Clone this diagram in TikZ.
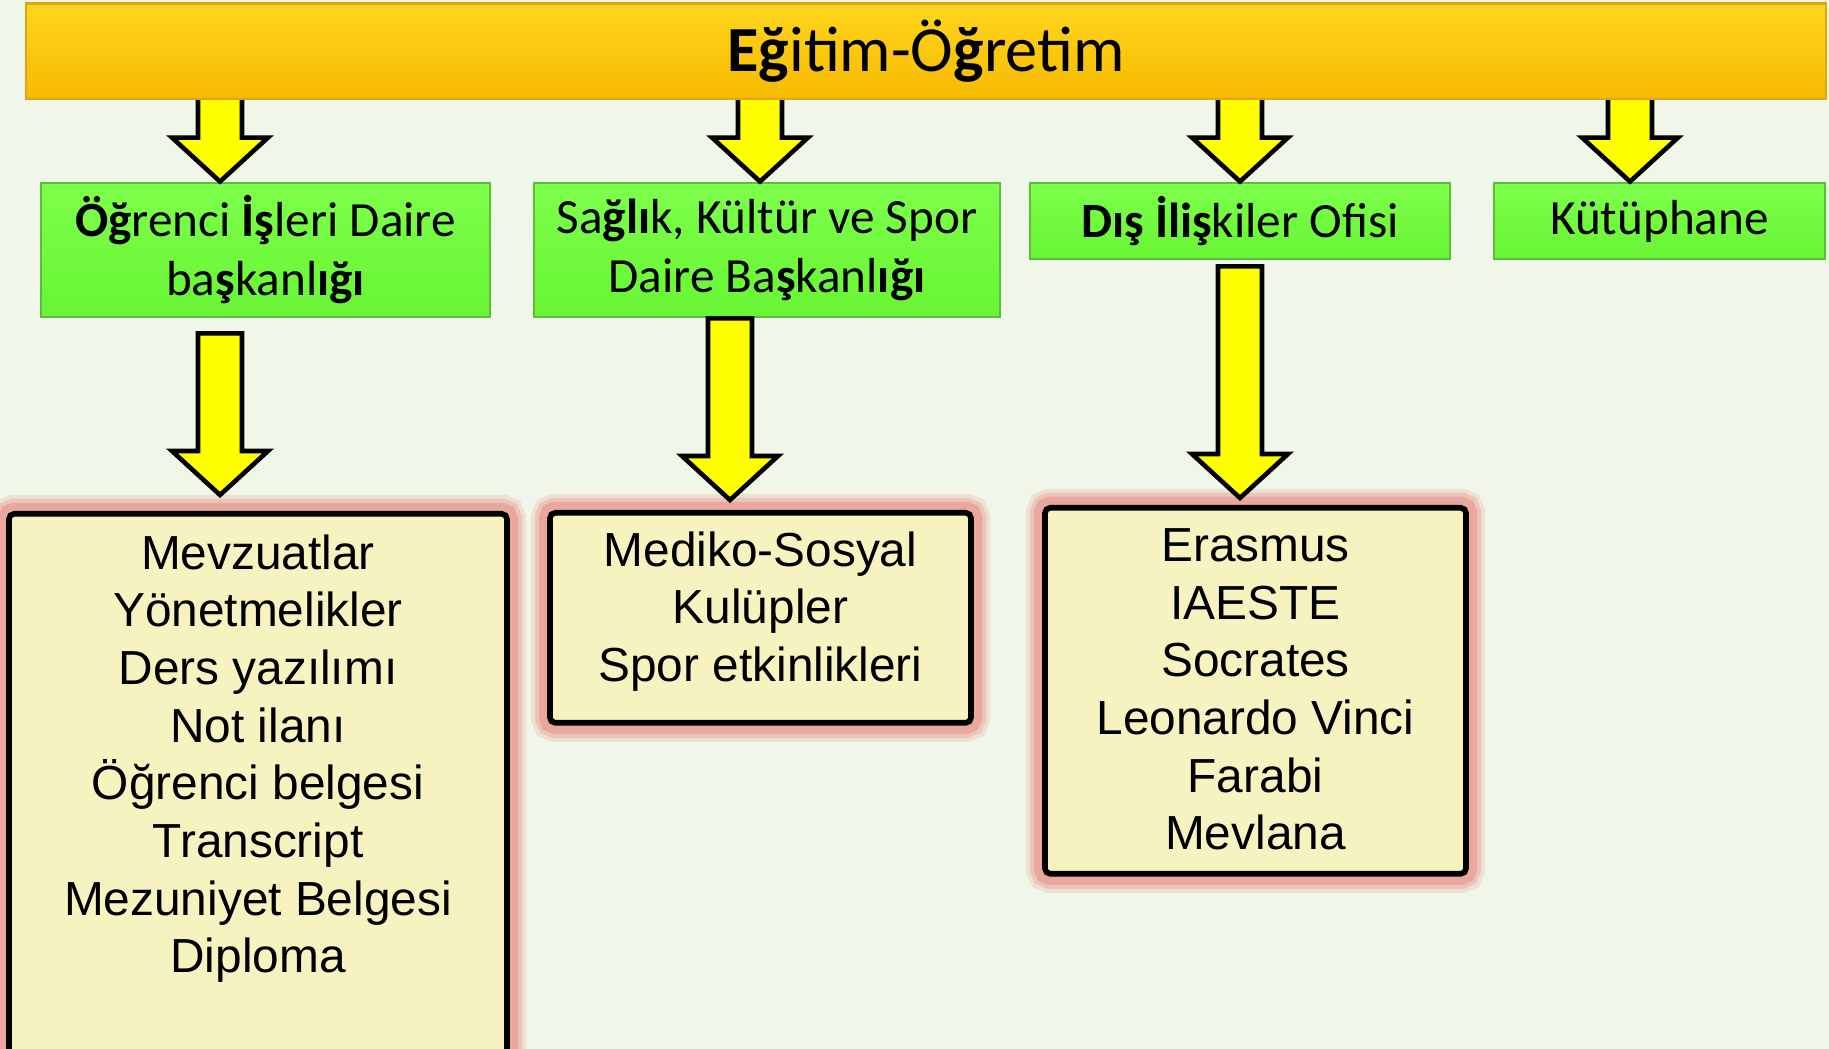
\documentclass[tikz,border=0pt]{standalone}
\usepackage{fontspec}
\setmainfont{Carlito}
\newfontfamily\listfont{Liberation Sans}
\usepackage{xcolor}
\usepackage{tikz}
\usetikzlibrary{positioning,calc}

\definecolor{bgcol}{RGB}{240,247,232}
\definecolor{goldtop}{RGB}{255,214,30}
\definecolor{goldbot}{RGB}{246,186,0}
\definecolor{goldedge}{RGB}{222,165,20}
\definecolor{greentop}{RGB}{125,255,75}
\definecolor{greenbot}{RGB}{104,245,52}
\definecolor{greenedge}{RGB}{88,190,60}
\definecolor{listfill}{RGB}{247,243,192}
\definecolor{glowpink}{RGB}{234,156,146}
\definecolor{arrowyellow}{RGB}{255,255,0}

\tikzset{
    greenbox/.style={draw=greenedge, line width=0.8pt, top color=greentop, bottom color=greenbot,
        align=center, inner sep=0pt, font=\fontsize{14}{16.8}\selectfont},
    listbox/.style={draw=black, line width=1.6pt, fill=listfill, rounded corners=1.5pt,
        preaction={draw=glowpink, line width=0.38cm, draw opacity=0.25},
        preaction={draw=glowpink, line width=0.30cm, draw opacity=0.4},
        preaction={draw=glowpink, line width=0.22cm, draw opacity=0.7}},
    listtext/.style={align=center, inner sep=0pt, font=\listfont\fontsize{13.6}{16.4}\selectfont},
    bigarr/.style={draw=black, fill=arrowyellow, line width=1.3pt, line join=miter}
}

% #1: closing of the outline, #2: start, #3: tip
\newcommand{\bigarrow}[3][-- cycle]{%
    \draw[bigarr] let \p1=(#2), \p2=(#3) in
        (\x2-0.22cm,\y1) -- (\x2-0.22cm,\y2+0.44cm) -- (\x2-0.48cm,\y2+0.44cm) -- (\x2,\y2)
        -- (\x2+0.48cm,\y2+0.44cm) -- (\x2+0.22cm,\y2+0.44cm) -- (\x2+0.22cm,\y1) #1;}

\begin{document}
\begin{tikzpicture}
    \clip (0,0) rectangle (18.29,-10.49);
    \fill[bgcol] (0,0) rectangle (18.29,-10.49);

    \node[draw=goldedge, line width=0.6pt, top color=goldtop, bottom color=goldbot,
        minimum width=18cm, minimum height=0.955cm, font=\fontsize{18.3}{22}\selectfont]
        (top) at (9.26,-0.5125) {\textbf{Eğ}itim-Ö\textbf{ğ}retim};

    \node[greenbox, minimum width=4.49cm, minimum height=1.34cm] (ogr) at (2.655,-2.50)
        {\textbf{Öğ}renci \textbf{İş}leri Daire\\ba\textbf{ş}kanl\textbf{ığı}};
    \node[greenbox, minimum width=4.66cm, minimum height=1.34cm] (sks) at (7.67,-2.50)
        {Sa\textbf{ğlı}k, Kültür ve Spor\\Daire Ba\textbf{ş}kanl\textbf{ığı}};
    \node[greenbox, minimum width=4.20cm, minimum height=0.76cm] (dis) at (12.40,-2.21)
        {\textbf{Dış İliş}kiler Ofisi};
    \node[greenbox, minimum width=3.31cm, minimum height=0.76cm] (kut) at (16.595,-2.21)
        {Kütüphane};

    \node[listbox, minimum width=4.98cm, minimum height=6cm, anchor=north] (ogrList) at (2.58,-5.11) {};
    \node[listbox, minimum width=4.21cm, minimum height=2.10cm, anchor=north] (sksList) at (7.605,-5.10) {};
    \node[listbox, minimum width=4.21cm, minimum height=3.66cm, anchor=north] (disList) at (12.555,-5.05) {};

    \node[listtext, below=0.23cm of ogrList.north] (ogrItems)
        {Mevzuatlar\\Yönetmelikler\\Ders yazılımı\\Not ilanı\\Öğrenci belgesi\\Transcript\\Mezuniyet Belgesi\\Diploma};
    \node[listtext, below=0.21cm of sksList.north] (sksItems)
        {Mediko-Sosyal\\Kulüpler\\Spor etkinlikleri};
    \node[listtext, below=0.23cm of disList.north] (disItems)
        {Erasmus\\IAESTE\\Socrates\\Leonardo Vinci\\Farabi\\Mevlana};

    \foreach \b/\dx in {ogr/-0.455, sks/-0.07, dis/0, kut/-0.295} {
        \coordinate (\b Tip) at ([xshift=\dx cm]\b.north);
        \bigarrow[]{top.south}{\b Tip}
    }

    \coordinate (ogrListTip) at ([xshift=-0.38cm, yshift=0.16cm]ogrList.north);
    \coordinate (sksListTip) at ([xshift=-0.305cm, yshift=0.10cm]sksList.north);
    \coordinate (disListTip) at ([xshift=-0.155cm, yshift=0.07cm]disList.north);
    \bigarrow{[yshift=-0.15cm]ogr.south}{ogrListTip}
    \bigarrow{sks.south}{sksListTip}
    \bigarrow{[yshift=-0.06cm]dis.south}{disListTip}
\end{tikzpicture}
\end{document}
